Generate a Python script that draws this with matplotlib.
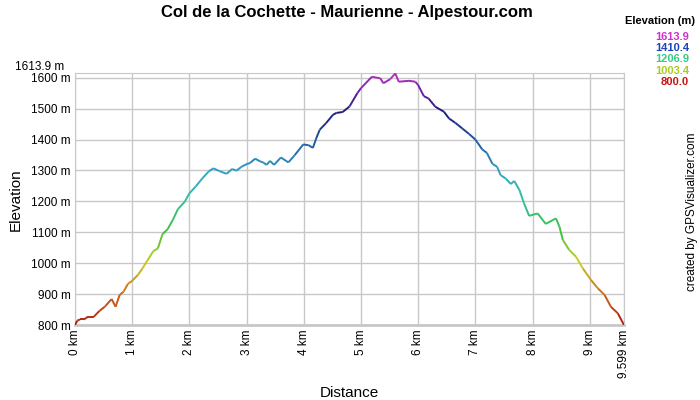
import numpy as np
import matplotlib
matplotlib.use("Agg")
import matplotlib.pyplot as plt
from matplotlib.collections import LineCollection
from matplotlib.colors import LinearSegmentedColormap

# profile (km, m)
dist_km = [0.0, 0.04, 0.087, 0.156, 0.23, 0.33, 0.43, 0.52, 0.64, 0.71, 0.78, 0.85,
           0.925, 1.0, 1.10, 1.18, 1.27, 1.37, 1.45, 1.53, 1.62, 1.71, 1.80, 1.92,
           2.0, 2.11, 2.23, 2.34, 2.42, 2.51, 2.65, 2.75, 2.82, 2.92, 3.01, 3.06,
           3.15, 3.24, 3.29, 3.35, 3.41, 3.48, 3.60, 3.73, 3.84, 3.99, 4.08, 4.16,
           4.22, 4.28, 4.39, 4.51, 4.57, 4.68, 4.80, 4.94, 5.0, 5.19, 5.34, 5.39,
           5.51, 5.60, 5.66, 5.84, 5.95, 6.0, 6.10, 6.18, 6.30, 6.45, 6.54, 6.65,
           6.77, 6.89, 7.0, 7.12, 7.20, 7.30, 7.38, 7.44, 7.53, 7.62, 7.68, 7.77,
           7.85, 7.94, 8.09, 8.23, 8.41, 8.47, 8.53, 8.64, 8.76, 8.88, 9.02, 9.14,
           9.26, 9.37, 9.49, 9.599]
elev_m = [800, 814, 818, 818, 827, 827, 846, 859, 884, 859, 897, 908,
          933, 943, 962, 983, 1010, 1039, 1048, 1094, 1110, 1140, 1175, 1199,
          1226, 1248, 1275, 1297, 1307, 1299, 1289, 1305, 1299, 1313, 1321, 1324,
          1338, 1329, 1326, 1318, 1331, 1318, 1342, 1326, 1349, 1384, 1382, 1373,
          1405, 1432, 1453, 1480, 1486, 1489, 1507, 1551, 1566, 1603, 1598, 1582,
          1595, 1613.9, 1587, 1590, 1587, 1576, 1540, 1533, 1506, 1490, 1468, 1454,
          1436, 1418, 1400, 1368, 1357, 1321, 1312, 1285, 1274, 1256, 1266, 1237,
          1194, 1153, 1161, 1127, 1145, 1118, 1075, 1043, 1021, 983, 946, 919,
          897, 859, 838, 800]

y_ticks = [800, 900, 1000, 1100, 1200, 1300, 1400, 1500, 1600]
x_ticks = [0, 1, 2, 3, 4, 5, 6, 7, 8, 9, 9.599]
x_labels = ["0 km", "1 km", "2 km", "3 km", "4 km", "5 km", "6 km", "7 km",
            "8 km", "9 km", "9.599 km"]
legend_vals = ["1613.9", "1410.4", "1206.9", "1003.4", "800.0"]
legend_cols = ["#cc33cc", "#2244bb", "#33cc88", "#aacc22", "#cc1111"]

ymin, ymax = 800.0, 1613.9

plt.rcParams['font.family'] = ['Liberation Sans', 'DejaVu Sans']

cmap = LinearSegmentedColormap.from_list("elev", [
    (0.0, "#b01818"), (0.12, "#d06818"), (0.25, "#c8d020"), (0.37, "#40c040"),
    (0.5, "#30c0a0"), (0.6, "#30a8c8"), (0.72, "#2060a8"), (0.78, "#1e3c96"),
    (0.85, "#1c1c78"), (0.93, "#6a20a8"), (1.0, "#c030c0")])

fig = plt.figure(figsize=(7, 4), dpi=100)
ax = fig.add_axes([75 / 700, 75 / 400, 549 / 700, (325 - 73.4) / 400])

x = np.array(dist_km)
y = np.array(elev_m)
pts = np.column_stack([x, y]).reshape(-1, 1, 2)
segs = np.concatenate([pts[:-1], pts[1:]], axis=1)
lc = LineCollection(segs, cmap=cmap, linewidths=1.4, zorder=3)
lc.set_array((y[:-1] + y[1:]) / 2)
lc.set_clim(ymin, ymax)
ax.add_collection(lc)

ax.set_xlim(0, 9.599)
ax.set_ylim(ymin, ymax)
ax.set_yticks(y_ticks)
ax.set_yticklabels([f"{v} m" for v in y_ticks], fontsize=8.5)
ax.set_xticks(x_ticks)
ax.set_xticklabels(x_labels, rotation=90, fontsize=8.5)
ax.tick_params(length=0, pad=3)
ax.grid(True, color="#c8c8c8", linewidth=1)
ax.set_axisbelow(True)
for s in ax.spines.values():
    s.set_color("#c8c8c8")
ax.spines["bottom"].set_linewidth(2)

ax.text(-0.02, ymax, "1613.9 m", transform=ax.get_yaxis_transform(),
        ha="right", va="bottom", fontsize=8.5)

ax.set_xlabel("Distance", fontsize=11, labelpad=6)
ax.set_ylabel("Elevation", fontsize=11, labelpad=6)
fig.text(347 / 700, 1 - 12 / 400, "Col de la Cochette - Maurienne - Alpestour.com",
         ha="center", va="center", fontsize=12, fontweight="bold")

fig.text(695 / 700, 1 - 21 / 400, "Elevation (m)", ha="right", va="center",
         fontsize=8, fontweight="bold")
for i, (v, c) in enumerate(zip(legend_vals, legend_cols)):
    fig.text(689 / 700, 1 - (37 + 11.2 * i) / 400, v, ha="right", va="center",
             fontsize=8, fontweight="bold", color=c)

fig.text(692 / 700, 1 - 212 / 400, "created by GPSVisualizer.com", rotation=90,
         ha="center", va="center", fontsize=8.5)

fig.savefig("out.png", dpi=100)
